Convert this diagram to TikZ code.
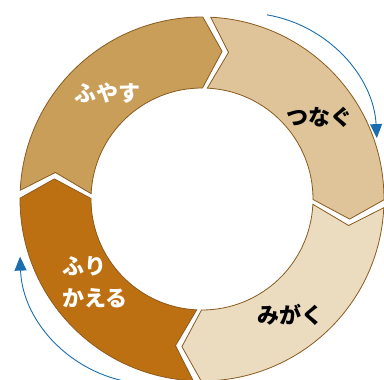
\documentclass[tikz,border=0pt]{standalone}
\usepackage{fontspec}
\newfontfamily\jpfont{Noto Sans CJK JP}
\usetikzlibrary{arrows.meta}

\definecolor{fuyasu}{HTML}{C99E59}
\definecolor{tsunagu}{HTML}{DFC499}
\definecolor{migaku}{HTML}{EBDCC0}
\definecolor{furikaeru}{HTML}{BD7012}
\definecolor{segline}{HTML}{8A5A1F}
\definecolor{cycblue}{HTML}{1A6EB0}

\begin{document}
\begin{tikzpicture}[
    x=1pt, y=1pt,
    seg/.style={draw=segline, line width=0.8pt, line join=miter},
    lbl/.style={font=\jpfont\bfseries\fontsize{22}{32}\selectfont, inner sep=0pt},
    cyc/.style={-{Triangle[length=14pt, width=12pt]}, draw=cycblue, line width=0.9pt},
  ]
    \useasboundingbox (-202,-181) rectangle (182,199);
    \clip (-202,-181) rectangle (182,199);

    % --- ring, four chevron segments (clockwise) ---
    \def\Ro{182}\def\Ri{111}\def\Rm{149}\def\gp{1.25}\def\tp{7.5}
    \foreach \a/\col in {178.5/fuyasu, 88.5/tsunagu, -1.5/migaku, -91.5/furikaeru}{
      \pgfmathsetmacro\s{\a-\gp}
      \pgfmathsetmacro\e{\a-90+\gp}
      \pgfmathsetmacro\sn{\s-\tp}
      \pgfmathsetmacro\et{\e-\tp}
      \draw[seg, fill=\col] (\s:\Ro pt) arc[start angle=\s, end angle=\e, radius=\Ro pt]
        -- (\et:\Rm pt) -- (\e:\Ri pt) arc[start angle=\e, end angle=\s, radius=\Ri pt]
        -- (\sn:\Rm pt) -- cycle;
    }

    % --- labels ---
    \node[lbl, text=white] (fuyasuL) at (-94.5,105.5) {ふやす};
    \node[lbl] (tsunaguL) at (118,81.5) {つなぐ};
    \node[lbl] (migakuL) at (89,-116) {みがく};
    \node[lbl, text=white, align=left, anchor=west] (furikaeruL) at (-140,-83.5) {ふり\\かえる};

    % --- cycle arrows ---
    \coordinate (topc) at (43,54);
    \coordinate (botc) at (-50,-53);
    \draw[cyc] ([shift={(80.4:132pt)}]topc) arc[start angle=80.4, end angle=3, radius=132pt];
    \draw[cyc] ([shift={(265:132pt)}]botc) arc[start angle=265, end angle=182, radius=132pt];
\end{tikzpicture}
\end{document}
